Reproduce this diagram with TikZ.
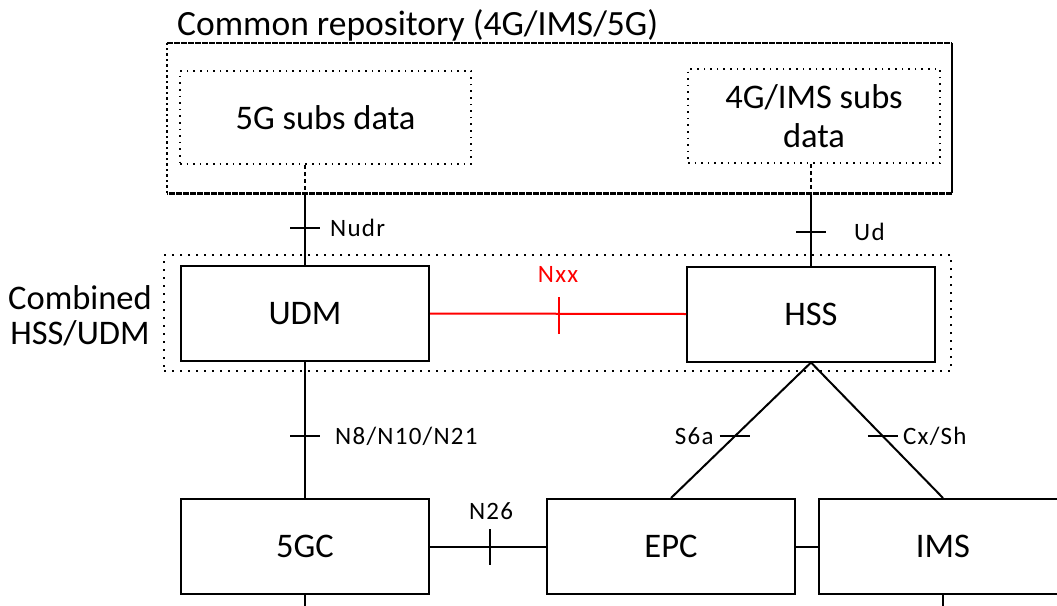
\documentclass[tikz,border=0pt]{standalone}
\usepackage{fontspec}
\setmainfont{Carlito}
\newfontfamily\lblfont[LetterSpace=5]{Carlito}
\usetikzlibrary{calc}
\begin{document}
\begin{tikzpicture}[x=1pt,y=-1pt,
  box/.style={draw, line width=2pt, minimum width=248pt, minimum height=95pt, inner sep=0pt, font=\fontsize{34.5}{40}\selectfont, align=center},
  subbox/.style={draw, line width=1.6pt, dash pattern=on 1.6pt off 5pt, inner sep=0pt, font=\fontsize{34.5}{39}\selectfont, align=center},
  conn/.style={line width=2pt},
  dconn/.style={line width=2pt, dash pattern=on 4pt off 3pt},
  tick/.style={line width=2pt},
  lbl/.style={font=\lblfont\fontsize{25}{30}\selectfont, inner sep=0pt},
  bigtext/.style={font=\fontsize{34.5}{35}\selectfont, inner sep=0pt, align=center}
]
\useasboundingbox (0,0) rectangle (1057,605);

% common repository
\node[bigtext, anchor=west, font=\fontsize{35.5}{36}\selectfont] (title) at (177,25) {Common repository (4G/IMS/5G)};
\node[minimum width=785pt, minimum height=150pt, inner sep=0pt] (repo) at (559.5,118) {};
\draw[line width=2.6pt, dash pattern=on 3pt off 0.5pt] (repo.north west) -- (repo.north east);
\draw[line width=2.6pt, dash pattern=on 3pt off 0.5pt] (repo.south east) -- (repo.south west);
\draw[line width=2pt] (repo.north east) -- (repo.south east);
\draw[line width=1.6pt, dash pattern=on 2.5pt off 3pt] (repo.south west) -- (repo.north west);
\node[subbox, minimum width=291pt, minimum height=93pt] (sub5) at (325.5,117.5) {5G subs data};
\node[subbox, minimum width=252pt, minimum height=94pt] (sub4) at (814,116) {4G/IMS subs\\data};

% combined HSS/UDM
\node[draw, line width=2pt, dash pattern=on 2pt off 6pt, minimum width=787pt, minimum height=116pt, inner sep=0pt] (comb) at (557.5,313) {};
\node[bigtext] (comblbl) at (80,316) {Combined\\HSS/UDM};
\node[box] (udm) at (305,313.5) {UDM};
\node[box] (hss) at (811,314) {HSS};

% bottom row
\node[box] (c5g) at (305,546.5) {5GC};
\node[box] (epc) at (671,546.5) {EPC};
\node[box] (ims) at (943,546.5) {IMS};

% Nudr
\coordinate (r5) at (udm.north |- repo.south);
\draw[dconn] (udm.north |- sub5.south) -- (r5);
\draw[conn] (r5) -- (udm.north);
\coordinate (tnudr) at (udm.north |- 0,228);
\draw[tick] ([xshift=-15pt]tnudr) -- ([xshift=15pt]tnudr);
\node[lbl, anchor=west] (lnudr) at ([xshift=25pt]tnudr) {Nudr};

% Ud
\coordinate (r4) at (hss.north |- repo.south);
\draw[dconn] (hss.north |- sub4.south) -- (r4);
\draw[conn] (r4) -- (hss.north);
\coordinate (tud) at (hss.north |- 0,232);
\draw[tick] ([xshift=-15pt]tud) -- ([xshift=15pt]tud);
\node[lbl, anchor=west] (lud) at ([xshift=43pt]tud) {Ud};

% Nxx
\draw[conn, red] (udm.east) -- (hss.west);
\coordinate (tnxx) at (559,314);
\draw[tick, red] ([yshift=-20pt]tnxx) -- ([yshift=17pt]tnxx);
\node[lbl, red] (lnxx) at (558,274) {Nxx};

% N8/N10/N21
\draw[conn] (udm.south) -- (c5g.north);
\coordinate (tn8) at (udm.south |- 0,436);
\draw[tick] ([xshift=-15pt]tn8) -- ([xshift=15pt]tn8);
\node[lbl, anchor=west] (ln8) at ([xshift=30pt]tn8) {N8/N10/N21};

% N26
\draw[conn] (c5g.east) -- (epc.west);
\coordinate (tn26) at (490,546.5);
\draw[tick] ([yshift=-18pt]tn26) -- ([yshift=18pt]tn26);
\node[lbl] (ln26) at (491,511) {N26};

% EPC - IMS
\draw[conn] (epc.east) -- (ims.west);

% S6a, Cx/Sh
\draw[conn] (epc.north) -- (hss.south) -- (ims.north);
\coordinate (ts6a) at ($(hss.south)!0.545!(epc.north)$);
\coordinate (tcx) at ($(hss.south)!0.545!(ims.north)$);
\draw[tick] ([xshift=-15pt]ts6a) -- ([xshift=15pt]ts6a);
\draw[tick] ([xshift=-15pt]tcx) -- ([xshift=15pt]tcx);
\node[lbl, anchor=east] (ls6a) at ([xshift=-21pt]ts6a) {S6a};
\node[lbl, anchor=west] (lcx) at ([xshift=20pt]tcx) {Cx/Sh};

% stubs at the bottom
\coordinate (s1) at (c5g.south |- 0,606);
\coordinate (s2) at (ims.south |- 0,606);
\draw[conn] (c5g.south) -- (s1);
\draw[conn] (ims.south) -- (s2);
\end{tikzpicture}
\end{document}
